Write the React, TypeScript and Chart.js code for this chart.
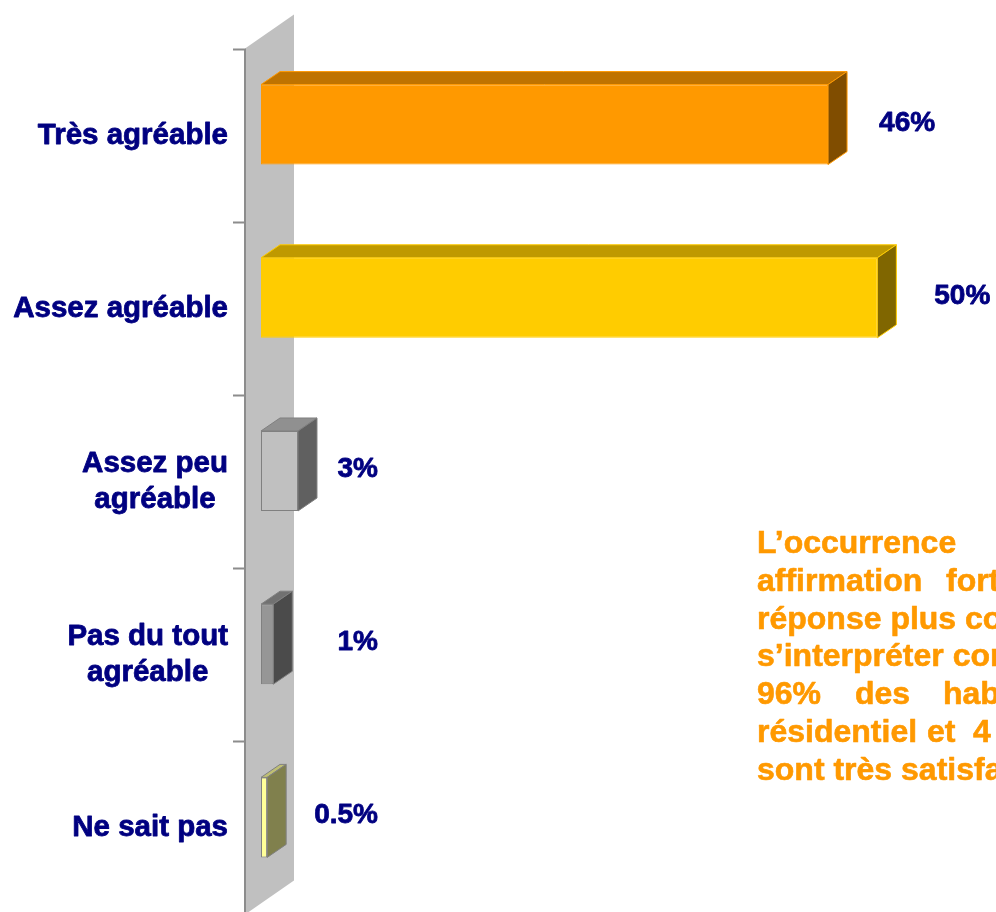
import React, { useEffect, useRef } from 'react';
import { Chart, registerables } from 'chart.js';

Chart.register(...registerables);

// ---- data ----
const categories: string[][] = [
  ['Très agréable'],
  ['Assez agréable'],
  ['Assez peu', 'agréable'],
  ['Pas du tout', 'agréable'],
  ['Ne sait pas'],
];
const values: number[] = [46, 50, 3, 1, 0.5];
const valueLabels: string[] = ['46%', '50%', '3%', '1%', '0.5%'];
const barColors: string[] = ['#FF9900', '#FFCC00', '#C0C0C0', '#969696', '#FFFF99'];
const barBorders: string[] = ['#FF9900', '#FFCC00', '#808080', '#808080', '#808080'];

// annotation (clipped, justified text on the right)
const noteLines: { text: string; x: number }[][] = [
  [{ text: 'L’occurrence', x: 757 }, { text: 'd’une', x: 1010 }],
  [{ text: 'affirmation', x: 757 }, { text: 'forte', x: 946 }],
  [{ text: 'réponse plus courante', x: 757 }],
  [{ text: 's’interpréter comme', x: 757 }],
  [{ text: '96%', x: 757 }, { text: 'des', x: 855 }, { text: 'habitants', x: 943 }],
  [{ text: 'résidentiel', x: 757 }, { text: 'et', x: 927 }, { text: '4', x: 973 }],
  [{ text: 'sont très satisfaits', x: 757 }],
];

// ---- style ----
const FONT = '"Liberation Sans", Arial, Helvetica, sans-serif';
const NAVY = '#000080';
const ORANGE = '#FF9900';
const BAR_DEPTH = { x: 19, y: -13 };
const FRONT_SHIFT = { x: -16, y: 10.5 };
const WALL_DEPTH = { x: 49, y: -34 };

function shade(hex: string, f: number): string {
  const h = hex.replace('#', '');
  const r = Math.round(parseInt(h.slice(0, 2), 16) * f);
  const g = Math.round(parseInt(h.slice(2, 4), 16) * f);
  const b = Math.round(parseInt(h.slice(4, 6), 16) * f);
  return `rgb(${r},${g},${b})`;
}

function boldText(ctx: CanvasRenderingContext2D, s: string, x: number, y: number, w: number) {
  ctx.fillText(s, x, y);
  ctx.lineWidth = w;
  ctx.strokeText(s, x, y);
}

const threeDPlugin = {
  id: 'threeD',
  beforeDatasetsDraw(chart: any) {
    const { ctx, chartArea, scales } = chart;
    const y = scales.y;
    const fx = chartArea.left + FRONT_SHIFT.x;
    const top = chartArea.top + FRONT_SHIFT.y;
    const bottom = chartArea.bottom + FRONT_SHIFT.y;
    ctx.save();
    // wall
    ctx.fillStyle = '#C0C0C0';
    ctx.beginPath();
    ctx.moveTo(fx, top);
    ctx.lineTo(fx + WALL_DEPTH.x, top + WALL_DEPTH.y);
    ctx.lineTo(fx + WALL_DEPTH.x, bottom + WALL_DEPTH.y);
    ctx.lineTo(fx, bottom);
    ctx.closePath();
    ctx.fill();
    // axis line + ticks
    ctx.strokeStyle = '#8C8C8C';
    ctx.lineWidth = 2;
    ctx.beginPath();
    ctx.moveTo(fx, top);
    ctx.lineTo(fx, bottom);
    const band = y.getPixelForValue(1) - y.getPixelForValue(0);
    for (let i = 0; i <= categories.length; i++) {
      const ty = Math.round(y.getPixelForValue(i) - band / 2 + FRONT_SHIFT.y) + 0.5;
      ctx.moveTo(fx - 12, ty);
      ctx.lineTo(fx, ty);
    }
    ctx.stroke();
    ctx.restore();
  },
  afterDatasetsDraw(chart: any) {
    const { ctx } = chart;
    const meta = chart.getDatasetMeta(0);
    ctx.save();
    meta.data.forEach((bar: any, i: number) => {
      const { x, y, base, height } = bar.getProps(['x', 'y', 'base', 'height'], true);
      const t = y - height / 2;
      const b = y + height / 2;
      const l = Math.min(base, x);
      const r = Math.max(base, x);
      const col = barColors[i];
      ctx.lineWidth = 1;
      ctx.strokeStyle = barBorders[i];
      // top face
      ctx.beginPath();
      ctx.moveTo(l, t);
      ctx.lineTo(l + BAR_DEPTH.x, t + BAR_DEPTH.y);
      ctx.lineTo(r + BAR_DEPTH.x, t + BAR_DEPTH.y);
      ctx.lineTo(r, t);
      ctx.closePath();
      ctx.fillStyle = shade(col, 0.75);
      ctx.fill();
      ctx.stroke();
      // side face
      ctx.beginPath();
      ctx.moveTo(r, t);
      ctx.lineTo(r + BAR_DEPTH.x, t + BAR_DEPTH.y);
      ctx.lineTo(r + BAR_DEPTH.x, b + BAR_DEPTH.y);
      ctx.lineTo(r, b);
      ctx.closePath();
      ctx.fillStyle = shade(col, 0.5);
      ctx.fill();
      ctx.stroke();
    });
    ctx.restore();
  },
  afterDraw(chart: any) {
    const { ctx, chartArea, scales } = chart;
    const y = scales.y;
    const meta = chart.getDatasetMeta(0);
    ctx.save();
    ctx.lineJoin = 'round';
    // category labels
    ctx.fillStyle = NAVY;
    ctx.strokeStyle = NAVY;
    ctx.font = `bold 29.5px ${FONT}`;
    ctx.textBaseline = 'alphabetic';
    ctx.textAlign = 'center';
    const rightEdge = chartArea.left + FRONT_SHIFT.x - 17;
    const lineH = 36;
    categories.forEach((lines, i) => {
      const cy = y.getPixelForValue(i);
      const maxW = Math.max(...lines.map((s) => ctx.measureText(s).width));
      const cx = rightEdge - maxW / 2;
      const firstBase = cy + 19 - ((lines.length - 1) * lineH) / 2;
      lines.forEach((s, k) => boldText(ctx, s, cx, firstBase + k * lineH, 0.8));
    });
    // value labels (right-aligned, beyond the bar end, with a minimum offset)
    ctx.font = `bold 28px ${FONT}`;
    ctx.textAlign = 'right';
    meta.data.forEach((bar: any, i: number) => {
      const { x, y: by, base } = bar.getProps(['x', 'y', 'base'], true);
      const rx = base + Math.max(117, 1.12 * (x - base) + 39);
      boldText(ctx, valueLabels[i], rx, by + 6, 0.8);
    });
    // annotation
    ctx.fillStyle = ORANGE;
    ctx.strokeStyle = ORANGE;
    ctx.font = `bold 32px ${FONT}`;
    ctx.textAlign = 'left';
    noteLines.forEach((words, k) => {
      const base = 553 + k * 37.8;
      words.forEach((w) => boldText(ctx, w.text, w.x, base, 0.6));
    });
    ctx.restore();
  },
};

export default function App() {
  const ref = useRef<HTMLCanvasElement | null>(null);
  useEffect(() => {
    if (!ref.current) return;
    const chart = new Chart(ref.current, {
      type: 'bar',
      data: {
        labels: categories.map((c) => c.join(' ')),
        datasets: [
          {
            data: values,
            backgroundColor: barColors,
            borderColor: barBorders,
            borderWidth: 1,
            borderSkipped: false,
            barPercentage: 0.462,
            categoryPercentage: 1,
          },
        ],
      },
      options: {
        indexAxis: 'y',
        animation: false,
        responsive: false,
        layout: { padding: { left: 261, right: 57, top: 38, bottom: 8 } },
        scales: {
          x: { display: false, min: 0, max: 55 },
          y: { display: false },
        },
        plugins: { legend: { display: false }, tooltip: { enabled: false } },
      },
      plugins: [threeDPlugin],
    });
    return () => chart.destroy();
  }, []);
  return (
    <div style={{ position: 'fixed', left: 0, top: 0, width: 996, height: 912, background: '#fff', overflow: 'hidden' }}>
      <canvas ref={ref} width={996} height={912} style={{ width: 996, height: 912, display: 'block' }} />
    </div>
  );
}
